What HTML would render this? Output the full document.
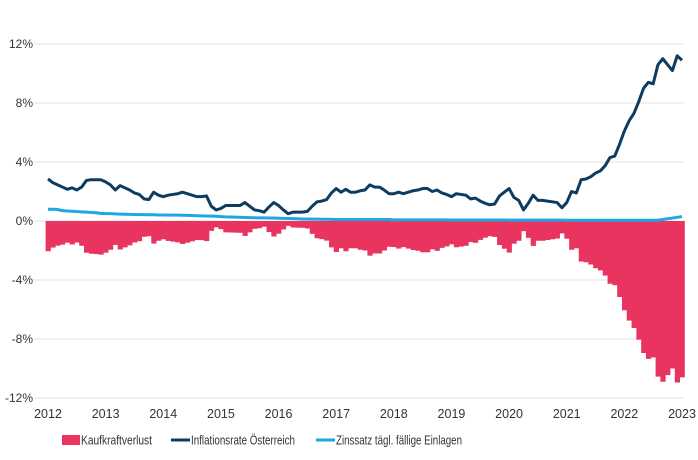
<!DOCTYPE html>
<html><head><meta charset="utf-8"><style>
html,body{margin:0;padding:0;background:#fff}
svg{display:block;font-family:"Liberation Sans",sans-serif}
</style></head><body>
<svg id="chart" width="698" height="460" viewBox="0 0 698 460">
<g id="grid"></g>
<g id="yt"></g>
<g id="xt"></g>
<g id="bars"></g>
<g id="lines"></g>
<g>
 <g>
  <rect x="62" y="435" width="18" height="10" fill="#e8345f"/>
  <text x="81" y="444.5" font-size="12.5" fill="#333" textLength="71" lengthAdjust="spacingAndGlyphs">Kaufkraftverlust</text>
 </g>
 <g>
  <line x1="171" y1="440" x2="190" y2="440" stroke="#0d3c61" stroke-width="3"/>
  <text x="191" y="444.5" font-size="12.5" fill="#333" textLength="104" lengthAdjust="spacingAndGlyphs">Inflationsrate Österreich</text>
 </g>
 <g>
  <line x1="316" y1="440" x2="335" y2="440" stroke="#1ea7e1" stroke-width="3"/>
  <text x="336" y="444.5" font-size="12.5" fill="#333" textLength="126" lengthAdjust="spacingAndGlyphs">Zinssatz tägl. fällige Einlagen</text>
 </g>
</g>
</svg>
<script>
const yTicks=[12,8,4,0,-4,-8,-12];
const yTickLabels=["12%","8%","4%","0%","-4%","-8%","-12%"];
const xYears=[2012,2013,2014,2015,2016,2017,2018,2019,2020,2021,2022,2023];
const inflation=[
2.85,2.6,2.45,2.3,2.15,2.25,2.1,2.3,2.75,2.8,2.8,2.8,
2.65,2.45,2.1,2.4,2.25,2.1,1.9,1.8,1.5,1.45,1.95,1.75,
1.65,1.75,1.8,1.85,1.95,1.85,1.75,1.65,1.65,1.7,1.0,0.75,
0.85,1.05,1.05,1.05,1.05,1.25,1.0,0.75,0.7,0.6,0.95,1.25,
1.05,0.75,0.5,0.6,0.6,0.6,0.65,1.0,1.3,1.35,1.45,1.9,
2.2,1.95,2.15,1.95,1.95,2.05,2.1,2.45,2.3,2.3,2.1,1.85,
1.85,1.95,1.85,1.95,2.05,2.1,2.2,2.2,2.0,2.1,1.9,1.8,
1.65,1.85,1.8,1.75,1.5,1.55,1.35,1.2,1.1,1.15,1.7,1.95,
2.2,1.6,1.4,0.75,1.2,1.75,1.4,1.4,1.35,1.3,1.25,0.9,
1.25,2.0,1.9,2.8,2.85,3.0,3.25,3.4,3.75,4.3,4.4,5.2,
6.1,6.8,7.3,8.1,9.0,9.4,9.3,10.6,11.0,10.6,10.2,11.2,
10.9];
const zinssatz=[
0.8,0.8,0.78,0.7,0.68,0.66,0.64,0.62,0.6,0.58,0.56,0.52,
0.5,0.5,0.48,0.47,0.46,0.45,0.44,0.43,0.43,0.42,0.42,0.41,
0.41,0.4,0.4,0.4,0.39,0.38,0.37,0.36,0.35,0.34,0.33,0.32,
0.3,0.28,0.27,0.26,0.25,0.24,0.23,0.22,0.21,0.21,0.2,0.2,
0.19,0.18,0.17,0.16,0.15,0.14,0.14,0.13,0.13,0.12,0.12,0.11,
0.1,0.1,0.1,0.1,0.1,0.1,0.1,0.1,0.1,0.1,0.1,0.1,
0.08,0.08,0.08,0.08,0.08,0.08,0.08,0.08,0.08,0.08,0.08,0.08,
0.07,0.07,0.07,0.07,0.07,0.07,0.07,0.07,0.07,0.07,0.07,0.07,
0.06,0.06,0.06,0.06,0.06,0.06,0.06,0.06,0.06,0.06,0.06,0.06,
0.05,0.05,0.05,0.05,0.05,0.05,0.05,0.05,0.05,0.05,0.05,0.05,
0.05,0.05,0.05,0.05,0.05,0.05,0.05,0.05,0.1,0.15,0.2,0.25,
0.3];
const kaufkraftverlust=[
-2.05,-1.8,-1.67,-1.6,-1.47,-1.59,-1.46,-1.68,-2.15,-2.22,-2.24,-2.28,
-2.15,-1.95,-1.62,-1.93,-1.79,-1.65,-1.46,-1.37,-1.07,-1.03,-1.53,-1.34,
-1.24,-1.35,-1.4,-1.45,-1.56,-1.47,-1.38,-1.29,-1.3,-1.36,-0.67,-0.43,
-0.55,-0.77,-0.78,-0.79,-0.8,-1.01,-0.77,-0.53,-0.49,-0.39,-0.75,-1.05,
-0.86,-0.57,-0.33,-0.44,-0.45,-0.46,-0.51,-0.87,-1.17,-1.23,-1.33,-1.79,
-2.1,-1.85,-2.05,-1.85,-1.85,-1.95,-2.0,-2.35,-2.2,-2.2,-2.0,-1.75,
-1.77,-1.87,-1.77,-1.87,-1.97,-2.02,-2.12,-2.12,-1.92,-2.02,-1.82,-1.72,
-1.58,-1.78,-1.73,-1.68,-1.43,-1.48,-1.28,-1.13,-1.03,-1.08,-1.63,-1.88,
-2.14,-1.54,-1.34,-0.69,-1.14,-1.69,-1.34,-1.34,-1.29,-1.24,-1.19,-0.84,
-1.2,-1.95,-1.85,-2.75,-2.8,-2.95,-3.2,-3.35,-3.7,-4.25,-4.35,-5.15,
-6.05,-6.75,-7.25,-8.05,-8.95,-9.35,-9.25,-10.55,-10.9,-10.45,-10.0,-10.95,
-10.6];

const NS="http://www.w3.org/2000/svg";
const X0=48, X1=682, Y0=221, PX=14.75;
const startYear=2012, endYear=2023;
function xYear(y){return X0+(y-startYear)*(X1-X0)/(endYear-startYear);}
function xMonth(i){return xYear(startYear+i/12);}
function yVal(v){return Y0-v*PX;}
function mk(tag,attrs,parent){const e=document.createElementNS(NS,tag);for(const k in attrs)e.setAttribute(k,attrs[k]);parent.appendChild(e);return e;}

const grid=document.getElementById('grid'), yt=document.getElementById('yt'), xt=document.getElementById('xt');
yTicks.forEach((t,i)=>{
  const l=mk('line',{x1:34,x2:684,y1:yVal(t),y2:yVal(t),stroke:'#e3e3e3','stroke-width':1},grid);
  
  
  const tx=mk('text',{x:33,y:yVal(t)+4,'text-anchor':'end','font-size':12,fill:'#333'},yt);
  tx.textContent=yTickLabels[i];
  
  
});
xYears.forEach(yr=>{
  const tx=mk('text',{x:xYear(yr),y:418,'text-anchor':'middle','font-size':12.5,fill:'#333'},xt);
  tx.textContent=String(yr);
  
  
});
const bars=document.getElementById('bars');
const bw=(X1-X0)/((endYear-startYear)*12);
kaufkraftverlust.forEach((v,i)=>{
  const y1=yVal(0), y2=yVal(v);
  const r=mk('rect',{x:xMonth(i)-bw/2,y:Math.min(y1,y2),width:bw+0.4,height:Math.abs(y2-y1),fill:'#e8345f'},bars);
  
  
});
const lines=document.getElementById('lines');
function pathOf(arr){return arr.map((v,i)=>(i?'L':'M')+xMonth(i).toFixed(2)+','+yVal(v).toFixed(2)).join(' ');}
const pz=mk('path',{d:pathOf(zinssatz),fill:'none',stroke:'#1ea7e1','stroke-width':3,'stroke-linejoin':'round'},lines);


const pi=mk('path',{d:pathOf(inflation),fill:'none',stroke:'#0d3c61','stroke-width':3,'stroke-linejoin':'round'},lines);


</script>
</body></html>
